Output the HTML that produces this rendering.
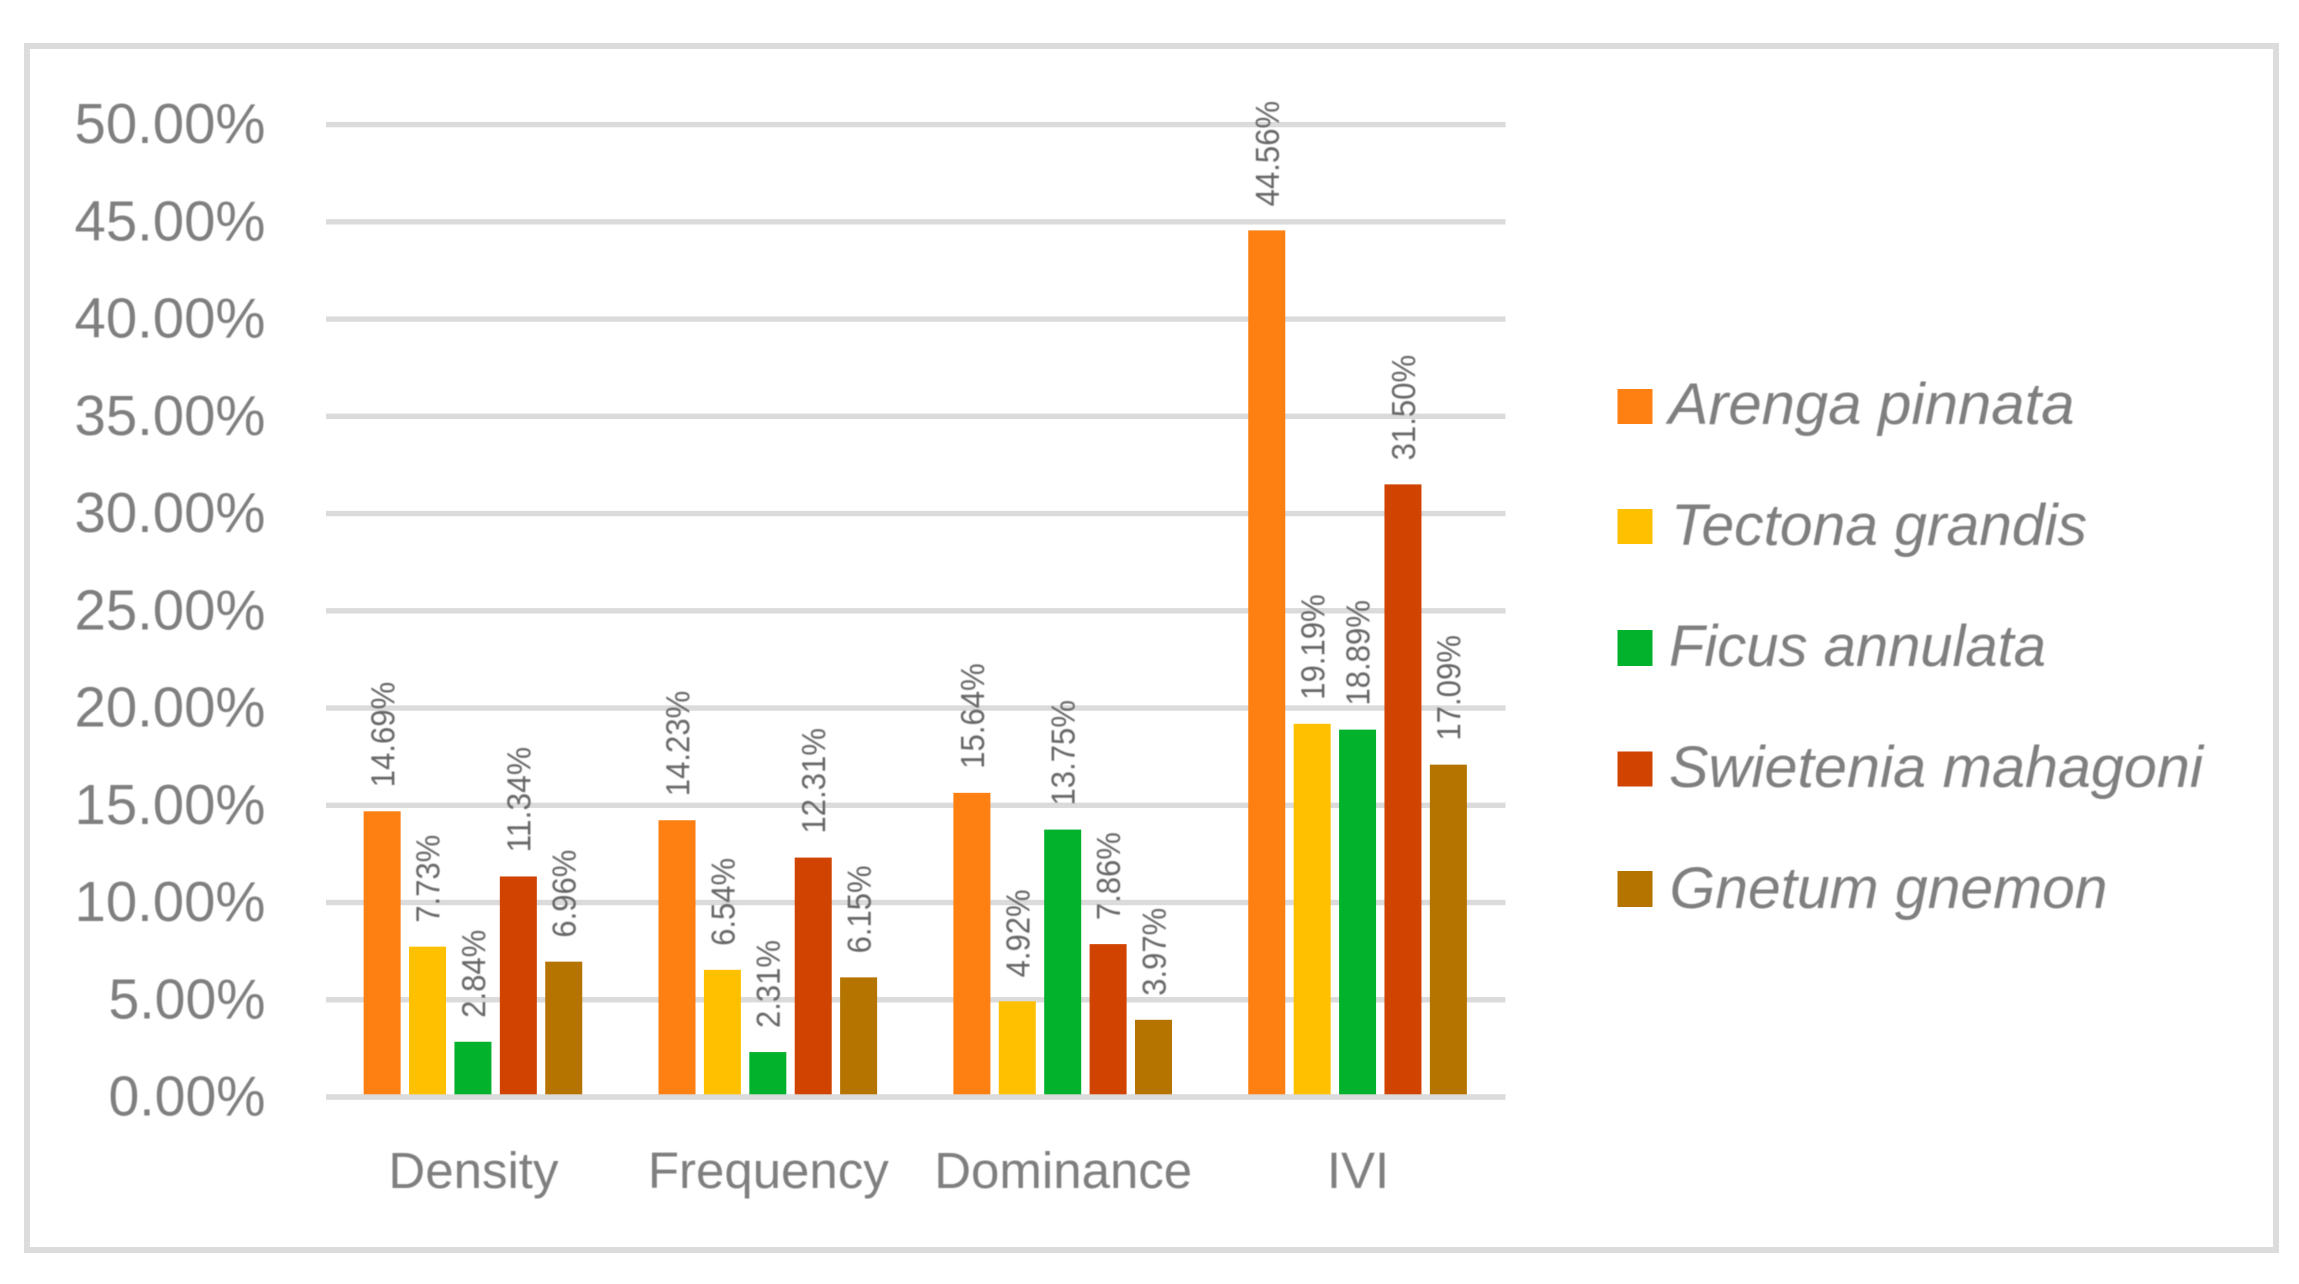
<!DOCTYPE html>
<html lang="en">
<head>
<meta charset="utf-8">
<title>Importance value chart</title>
<style>
  html, body { margin: 0; padding: 0; background: #ffffff; }
  svg { display: block; }
  text { font-family: "Liberation Sans", sans-serif; filter: blur(0.6px); }
  .tick { font-size: 57px; fill: #7f7f7f; }
  .cat { font-size: 51px; fill: #7f7f7f; }
  .val { font-size: 33px; fill: #666666; }
  .leg { font-size: 58px; font-style: italic; fill: #7f7f7f; }
</style>
</head>
<body>
<svg id="chart" xmlns="http://www.w3.org/2000/svg" width="2299" height="1284" viewBox="0 0 2299 1284">
  <rect x="0" y="0" width="2299" height="1284" fill="#ffffff"/>
  <rect x="27" y="46" width="2249" height="1204" fill="none" stroke="#dcdcdc" stroke-width="6"/>
  <g id="grid"></g>
  <g id="bars"></g>
  <g id="axis"></g>
  <g id="values"></g>
  <g id="yticks"></g>
  <g id="cats"></g>
  <g>
    <rect x="1617.5" y="389" width="35" height="35" fill="#fe7f12"/>
    <text class="leg" x="1668.5" y="424" textLength="406" lengthAdjust="spacingAndGlyphs">Arenga pinnata</text>
    <rect x="1617.5" y="509" width="35" height="35" fill="#ffc000"/>
    <text class="leg" x="1671" y="545" textLength="416" lengthAdjust="spacingAndGlyphs">Tectona grandis</text>
    <rect x="1617.5" y="630" width="35" height="36" fill="#02b12c"/>
    <text class="leg" x="1669" y="666" textLength="377" lengthAdjust="spacingAndGlyphs">Ficus annulata</text>
    <rect x="1617.5" y="751.5" width="35" height="35" fill="#d04300"/>
    <text class="leg" x="1669" y="787" textLength="534" lengthAdjust="spacingAndGlyphs">Swietenia mahagoni</text>
    <rect x="1617.5" y="871" width="35" height="36" fill="#b57300"/>
    <text class="leg" x="1669.5" y="908" textLength="438" lengthAdjust="spacingAndGlyphs">Gnetum gnemon</text>
  </g>
</svg>
<script>
const categories = ['Density', 'Frequency', 'Dominance', 'IVI'];
const seriesNames = ['Arenga pinnata', 'Tectona grandis', 'Ficus annulata', 'Swietenia mahagoni', 'Gnetum gnemon'];
const arengaPinnata = [14.69, 14.23, 15.64, 44.56];
const tectonaGrandis = [7.73, 6.54, 4.92, 19.19];
const ficusAnnulata = [2.84, 2.31, 13.75, 18.89];
const swieteniaMahagoni = [11.34, 12.31, 7.86, 31.50];
const gnetumGnemon = [6.96, 6.15, 3.97, 17.09];
const yTicks = [0, 5, 10, 15, 20, 25, 30, 35, 40, 45, 50];

const seriesValues = [arengaPinnata, tectonaGrandis, ficusAnnulata, swieteniaMahagoni, gnetumGnemon];
const seriesColors = ['#fe7f12', '#ffc000', '#02b12c', '#d04300', '#b57300'];

const NS = 'http://www.w3.org/2000/svg';
const plotLeft = 326, plotRight = 1505.5, y0 = 1097, y50 = 124.6;
const barPitch = 45.4, barWidth = 37;

function yScale(v) { return y0 - (v / 50) * (y0 - y50); }
function catCenter(i) { return plotLeft + (plotRight - plotLeft) * (i + 0.5) / categories.length - 0.5; }
function barCenter(c, s) { return catCenter(c) + (s - (seriesNames.length - 1) / 2) * barPitch; }
function slug(s) { return s.toLowerCase().replace(/[^a-z0-9]+/g, '-'); }
function pct(v) { return v.toFixed(2) + '%'; }
function make(tag, parentId, attrs, content) {
  const el = document.createElementNS(NS, tag);
  for (const k in attrs) el.setAttribute(k, attrs[k]);
  if (content !== undefined) el.textContent = content;
  document.getElementById(parentId).appendChild(el);
  return el;
}

yTicks.forEach(function (t) {
  const y = yScale(t);
  const line = make('rect', 'grid', { x: plotLeft, y: y - 2.7, width: plotRight - plotLeft, height: 5.4, fill: '#dbdbdb' });
  
  
  const text = pct(t);
  const w = text.length === 6 ? 191 : 157;
  const label = make('text', 'yticks', { class: 'tick', x: 265.5 - w, y: y + 18.5, textLength: w, lengthAdjust: 'spacingAndGlyphs' }, text);
  
  
});

seriesValues.forEach(function (vals, s) {
  vals.forEach(function (v, c) {
    const cx = barCenter(c, s);
    const top = yScale(v);
    const bar = make('rect', 'bars', { x: cx - barWidth / 2, y: top, width: barWidth, height: y0 - top, fill: seriesColors[s] });
    
    
    const text = pct(v);
    const bx = cx + 12, by = top - 24;
    const lab = make('text', 'values', {
      class: 'val', x: bx, y: by,
      transform: 'rotate(-90 ' + bx + ' ' + by + ')',
      textLength: text.length * 17.6,
      lengthAdjust: 'spacingAndGlyphs'
    }, text);
    
    
  });
});

const axisLine = make('rect', 'axis', { x: plotLeft, y: y0 - 2.7, width: plotRight - plotLeft, height: 5.4, fill: '#dbdbdb' });



categories.forEach(function (name, c) {
  const lab = make('text', 'cats', { class: 'cat', x: catCenter(c) + 0.5, y: 1188, 'text-anchor': 'middle' }, name);
  
  
});
</script>
</body>
</html>
